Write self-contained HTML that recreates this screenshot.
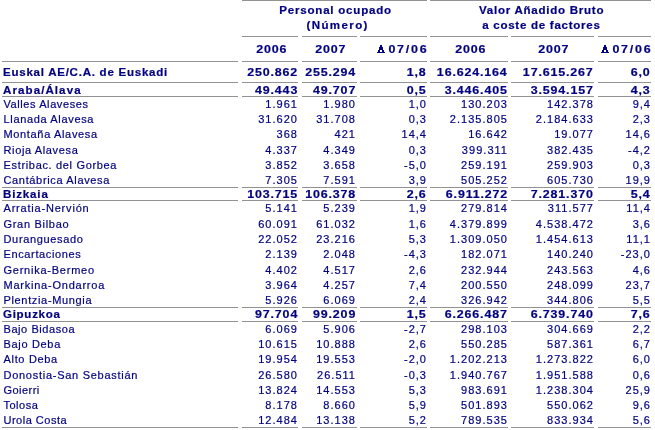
<!DOCTYPE html>
<html><head><meta charset="utf-8"><style>
html,body{margin:0;padding:0;background:#fff;width:655px;height:430px;overflow:hidden;position:relative}
.l{position:absolute;height:1px;background:#929292}
.t{position:absolute;font-family:"Liberation Sans",sans-serif;font-size:11px;line-height:14px;color:#000080;white-space:nowrap;-webkit-text-stroke:0.2px #000080}
.t span{display:inline-block}
.b{font-weight:bold;-webkit-text-stroke:0.2px #000080}
.r{text-align:right}
.r span{transform-origin:100% 0}
.c{text-align:center}
.c span{transform-origin:50% 0}
.lf span{transform-origin:0 0}
</style></head><body><div id="w" style="position:absolute;left:0;top:0;width:655px;height:430px;will-change:transform">

<div class="l" style="left:242px;top:0px;width:185px"></div>
<div class="l" style="left:430px;top:0px;width:221px"></div>
<div class="l" style="left:242px;top:36px;width:56px"></div>
<div class="l" style="left:302px;top:36px;width:55px"></div>
<div class="l" style="left:360px;top:36px;width:67px"></div>
<div class="l" style="left:430px;top:36px;width:78px"></div>
<div class="l" style="left:511px;top:36px;width:83px"></div>
<div class="l" style="left:598px;top:36px;width:53px"></div>
<div class="l" style="left:2px;top:61px;width:236px"></div>
<div class="l" style="left:242px;top:61px;width:56px"></div>
<div class="l" style="left:302px;top:61px;width:55px"></div>
<div class="l" style="left:360px;top:61px;width:67px"></div>
<div class="l" style="left:430px;top:61px;width:78px"></div>
<div class="l" style="left:511px;top:61px;width:83px"></div>
<div class="l" style="left:598px;top:61px;width:53px"></div>
<div class="l" style="left:2px;top:82px;width:236px"></div>
<div class="l" style="left:242px;top:82px;width:56px"></div>
<div class="l" style="left:302px;top:82px;width:55px"></div>
<div class="l" style="left:360px;top:82px;width:67px"></div>
<div class="l" style="left:430px;top:82px;width:78px"></div>
<div class="l" style="left:511px;top:82px;width:83px"></div>
<div class="l" style="left:598px;top:82px;width:53px"></div>
<div class="l" style="left:2px;top:96px;width:236px"></div>
<div class="l" style="left:242px;top:96px;width:56px"></div>
<div class="l" style="left:302px;top:96px;width:55px"></div>
<div class="l" style="left:360px;top:96px;width:67px"></div>
<div class="l" style="left:430px;top:96px;width:78px"></div>
<div class="l" style="left:511px;top:96px;width:83px"></div>
<div class="l" style="left:598px;top:96px;width:53px"></div>
<div class="l" style="left:2px;top:187px;width:236px"></div>
<div class="l" style="left:242px;top:187px;width:56px"></div>
<div class="l" style="left:302px;top:187px;width:55px"></div>
<div class="l" style="left:360px;top:187px;width:67px"></div>
<div class="l" style="left:430px;top:187px;width:78px"></div>
<div class="l" style="left:511px;top:187px;width:83px"></div>
<div class="l" style="left:598px;top:187px;width:53px"></div>
<div class="l" style="left:2px;top:200px;width:236px"></div>
<div class="l" style="left:242px;top:200px;width:56px"></div>
<div class="l" style="left:302px;top:200px;width:55px"></div>
<div class="l" style="left:360px;top:200px;width:67px"></div>
<div class="l" style="left:430px;top:200px;width:78px"></div>
<div class="l" style="left:511px;top:200px;width:83px"></div>
<div class="l" style="left:598px;top:200px;width:53px"></div>
<div class="l" style="left:2px;top:307px;width:236px"></div>
<div class="l" style="left:242px;top:307px;width:56px"></div>
<div class="l" style="left:302px;top:307px;width:55px"></div>
<div class="l" style="left:360px;top:307px;width:67px"></div>
<div class="l" style="left:430px;top:307px;width:78px"></div>
<div class="l" style="left:511px;top:307px;width:83px"></div>
<div class="l" style="left:598px;top:307px;width:53px"></div>
<div class="l" style="left:2px;top:321px;width:236px"></div>
<div class="l" style="left:242px;top:321px;width:56px"></div>
<div class="l" style="left:302px;top:321px;width:55px"></div>
<div class="l" style="left:360px;top:321px;width:67px"></div>
<div class="l" style="left:430px;top:321px;width:78px"></div>
<div class="l" style="left:511px;top:321px;width:83px"></div>
<div class="l" style="left:598px;top:321px;width:53px"></div>
<div class="l" style="left:2px;top:427px;width:236px"></div>
<div class="l" style="left:242px;top:427px;width:56px"></div>
<div class="l" style="left:302px;top:427px;width:55px"></div>
<div class="l" style="left:360px;top:427px;width:67px"></div>
<div class="l" style="left:430px;top:427px;width:78px"></div>
<div class="l" style="left:511px;top:427px;width:83px"></div>
<div class="l" style="left:598px;top:427px;width:53px"></div>
<div class="t b lf" style="left:3px;top:65px;"><span style="transform:scaleX(1.05);letter-spacing:0.7px;margin-right:-0.7px;">Euskal AE/C.A. de Euskadi</span></div>
<div class="t b r" style="left:242px;width:55px;top:65px;"><span style="transform:scaleX(1.13);letter-spacing:0.75px;margin-right:-0.75px;">250.862</span></div>
<div class="t b r" style="left:302px;width:53px;top:65px;"><span style="transform:scaleX(1.13);letter-spacing:0.75px;margin-right:-0.75px;">255.294</span></div>
<div class="t b r" style="left:360px;width:66px;top:65px;"><span style="transform:scaleX(1.13);letter-spacing:0.75px;margin-right:-0.75px;">1,8</span></div>
<div class="t b r" style="left:430px;width:77px;top:65px;"><span style="transform:scaleX(1.13);letter-spacing:0.75px;margin-right:-0.75px;">16.624.164</span></div>
<div class="t b r" style="left:511px;width:82px;top:65px;"><span style="transform:scaleX(1.13);letter-spacing:0.75px;margin-right:-0.75px;">17.615.267</span></div>
<div class="t b r" style="left:598px;width:52px;top:65px;"><span style="transform:scaleX(1.13);letter-spacing:0.75px;margin-right:-0.75px;">6,0</span></div>
<div class="t b lf" style="left:3px;top:83px;"><span style="transform:scaleX(1.05);letter-spacing:1.027px;margin-right:-1.027px;">Araba/Álava</span></div>
<div class="t b r" style="left:242px;width:55px;top:83px;"><span style="transform:scaleX(1.13);letter-spacing:0.75px;margin-right:-0.75px;">49.443</span></div>
<div class="t b r" style="left:302px;width:53px;top:83px;"><span style="transform:scaleX(1.13);letter-spacing:0.75px;margin-right:-0.75px;">49.707</span></div>
<div class="t b r" style="left:360px;width:66px;top:83px;"><span style="transform:scaleX(1.13);letter-spacing:0.75px;margin-right:-0.75px;">0,5</span></div>
<div class="t b r" style="left:430px;width:77px;top:83px;"><span style="transform:scaleX(1.13);letter-spacing:0.75px;margin-right:-0.75px;">3.446.405</span></div>
<div class="t b r" style="left:511px;width:82px;top:83px;"><span style="transform:scaleX(1.13);letter-spacing:0.75px;margin-right:-0.75px;">3.594.157</span></div>
<div class="t b r" style="left:598px;width:52px;top:83px;"><span style="transform:scaleX(1.13);letter-spacing:0.75px;margin-right:-0.75px;">4,3</span></div>
<div class="t lf" style="left:3.5px;top:97px;"><span style="transform:scaleX(1.0);letter-spacing:0.586px;margin-right:-0.586px;">Valles Alaveses</span></div>
<div class="t r" style="left:242px;width:55px;top:97px;"><span style="transform:scaleX(1.0);letter-spacing:1.03px;margin-right:-1.03px;">1.961</span></div>
<div class="t r" style="left:302px;width:53px;top:97px;"><span style="transform:scaleX(1.0);letter-spacing:1.03px;margin-right:-1.03px;">1.980</span></div>
<div class="t r" style="left:360px;width:66px;top:97px;"><span style="transform:scaleX(1.0);letter-spacing:1.03px;margin-right:-1.03px;">1,0</span></div>
<div class="t r" style="left:430px;width:77px;top:97px;"><span style="transform:scaleX(1.0);letter-spacing:1.03px;margin-right:-1.03px;">130.203</span></div>
<div class="t r" style="left:511px;width:82px;top:97px;"><span style="transform:scaleX(1.0);letter-spacing:1.03px;margin-right:-1.03px;">142.378</span></div>
<div class="t r" style="left:598px;width:52px;top:97px;"><span style="transform:scaleX(1.0);letter-spacing:1.03px;margin-right:-1.03px;">9,4</span></div>
<div class="t lf" style="left:3.5px;top:112px;"><span style="transform:scaleX(1.0);letter-spacing:0.657px;margin-right:-0.657px;">Llanada Alavesa</span></div>
<div class="t r" style="left:242px;width:55px;top:112px;"><span style="transform:scaleX(1.0);letter-spacing:1.03px;margin-right:-1.03px;">31.620</span></div>
<div class="t r" style="left:302px;width:53px;top:112px;"><span style="transform:scaleX(1.0);letter-spacing:1.03px;margin-right:-1.03px;">31.708</span></div>
<div class="t r" style="left:360px;width:66px;top:112px;"><span style="transform:scaleX(1.0);letter-spacing:1.03px;margin-right:-1.03px;">0,3</span></div>
<div class="t r" style="left:430px;width:77px;top:112px;"><span style="transform:scaleX(1.0);letter-spacing:1.03px;margin-right:-1.03px;">2.135.805</span></div>
<div class="t r" style="left:511px;width:82px;top:112px;"><span style="transform:scaleX(1.0);letter-spacing:1.03px;margin-right:-1.03px;">2.184.633</span></div>
<div class="t r" style="left:598px;width:52px;top:112px;"><span style="transform:scaleX(1.0);letter-spacing:1.03px;margin-right:-1.03px;">2,3</span></div>
<div class="t lf" style="left:3.5px;top:127px;"><span style="transform:scaleX(1.0);letter-spacing:0.657px;margin-right:-0.657px;">Montaña Alavesa</span></div>
<div class="t r" style="left:242px;width:55px;top:127px;"><span style="transform:scaleX(1.0);letter-spacing:1.03px;margin-right:-1.03px;">368</span></div>
<div class="t r" style="left:302px;width:53px;top:127px;"><span style="transform:scaleX(1.0);letter-spacing:1.03px;margin-right:-1.03px;">421</span></div>
<div class="t r" style="left:360px;width:66px;top:127px;"><span style="transform:scaleX(1.0);letter-spacing:1.03px;margin-right:-1.03px;">14,4</span></div>
<div class="t r" style="left:430px;width:77px;top:127px;"><span style="transform:scaleX(1.0);letter-spacing:1.03px;margin-right:-1.03px;">16.642</span></div>
<div class="t r" style="left:511px;width:82px;top:127px;"><span style="transform:scaleX(1.0);letter-spacing:1.03px;margin-right:-1.03px;">19.077</span></div>
<div class="t r" style="left:598px;width:52px;top:127px;"><span style="transform:scaleX(1.0);letter-spacing:1.03px;margin-right:-1.03px;">14,6</span></div>
<div class="t lf" style="left:3.5px;top:143px;"><span style="transform:scaleX(1.0);letter-spacing:0.633px;margin-right:-0.633px;">Rioja Alavesa</span></div>
<div class="t r" style="left:242px;width:55px;top:143px;"><span style="transform:scaleX(1.0);letter-spacing:1.03px;margin-right:-1.03px;">4.337</span></div>
<div class="t r" style="left:302px;width:53px;top:143px;"><span style="transform:scaleX(1.0);letter-spacing:1.03px;margin-right:-1.03px;">4.349</span></div>
<div class="t r" style="left:360px;width:66px;top:143px;"><span style="transform:scaleX(1.0);letter-spacing:1.03px;margin-right:-1.03px;">0,3</span></div>
<div class="t r" style="left:430px;width:77px;top:143px;"><span style="transform:scaleX(1.0);letter-spacing:1.03px;margin-right:-1.03px;">399.311</span></div>
<div class="t r" style="left:511px;width:82px;top:143px;"><span style="transform:scaleX(1.0);letter-spacing:1.03px;margin-right:-1.03px;">382.435</span></div>
<div class="t r" style="left:598px;width:52px;top:143px;"><span style="transform:scaleX(1.0);letter-spacing:1.03px;margin-right:-1.03px;">-4,2</span></div>
<div class="t lf" style="left:3.5px;top:158px;"><span style="transform:scaleX(1.0);letter-spacing:0.668px;margin-right:-0.668px;">Estribac. del Gorbea</span></div>
<div class="t r" style="left:242px;width:55px;top:158px;"><span style="transform:scaleX(1.0);letter-spacing:1.03px;margin-right:-1.03px;">3.852</span></div>
<div class="t r" style="left:302px;width:53px;top:158px;"><span style="transform:scaleX(1.0);letter-spacing:1.03px;margin-right:-1.03px;">3.658</span></div>
<div class="t r" style="left:360px;width:66px;top:158px;"><span style="transform:scaleX(1.0);letter-spacing:1.03px;margin-right:-1.03px;">-5,0</span></div>
<div class="t r" style="left:430px;width:77px;top:158px;"><span style="transform:scaleX(1.0);letter-spacing:1.03px;margin-right:-1.03px;">259.191</span></div>
<div class="t r" style="left:511px;width:82px;top:158px;"><span style="transform:scaleX(1.0);letter-spacing:1.03px;margin-right:-1.03px;">259.903</span></div>
<div class="t r" style="left:598px;width:52px;top:158px;"><span style="transform:scaleX(1.0);letter-spacing:1.03px;margin-right:-1.03px;">0,3</span></div>
<div class="t lf" style="left:3.5px;top:173px;"><span style="transform:scaleX(1.0);letter-spacing:0.653px;margin-right:-0.653px;">Cantábrica Alavesa</span></div>
<div class="t r" style="left:242px;width:55px;top:173px;"><span style="transform:scaleX(1.0);letter-spacing:1.03px;margin-right:-1.03px;">7.305</span></div>
<div class="t r" style="left:302px;width:53px;top:173px;"><span style="transform:scaleX(1.0);letter-spacing:1.03px;margin-right:-1.03px;">7.591</span></div>
<div class="t r" style="left:360px;width:66px;top:173px;"><span style="transform:scaleX(1.0);letter-spacing:1.03px;margin-right:-1.03px;">3,9</span></div>
<div class="t r" style="left:430px;width:77px;top:173px;"><span style="transform:scaleX(1.0);letter-spacing:1.03px;margin-right:-1.03px;">505.252</span></div>
<div class="t r" style="left:511px;width:82px;top:173px;"><span style="transform:scaleX(1.0);letter-spacing:1.03px;margin-right:-1.03px;">605.730</span></div>
<div class="t r" style="left:598px;width:52px;top:173px;"><span style="transform:scaleX(1.0);letter-spacing:1.03px;margin-right:-1.03px;">19,9</span></div>
<div class="t b lf" style="left:3px;top:187px;"><span style="transform:scaleX(1.05);letter-spacing:0.8px;margin-right:-0.8px;">Bizkaia</span></div>
<div class="t b r" style="left:242px;width:55px;top:187px;"><span style="transform:scaleX(1.13);letter-spacing:0.75px;margin-right:-0.75px;">103.715</span></div>
<div class="t b r" style="left:302px;width:53px;top:187px;"><span style="transform:scaleX(1.13);letter-spacing:0.75px;margin-right:-0.75px;">106.378</span></div>
<div class="t b r" style="left:360px;width:66px;top:187px;"><span style="transform:scaleX(1.13);letter-spacing:0.75px;margin-right:-0.75px;">2,6</span></div>
<div class="t b r" style="left:430px;width:77px;top:187px;"><span style="transform:scaleX(1.13);letter-spacing:0.75px;margin-right:-0.75px;">6.911.272</span></div>
<div class="t b r" style="left:511px;width:82px;top:187px;"><span style="transform:scaleX(1.13);letter-spacing:0.75px;margin-right:-0.75px;">7.281.370</span></div>
<div class="t b r" style="left:598px;width:52px;top:187px;"><span style="transform:scaleX(1.13);letter-spacing:0.75px;margin-right:-0.75px;">5,4</span></div>
<div class="t lf" style="left:3.5px;top:201px;"><span style="transform:scaleX(1.0);letter-spacing:0.8px;margin-right:-0.8px;">Arratia-Nervión</span></div>
<div class="t r" style="left:242px;width:55px;top:201px;"><span style="transform:scaleX(1.0);letter-spacing:1.03px;margin-right:-1.03px;">5.141</span></div>
<div class="t r" style="left:302px;width:53px;top:201px;"><span style="transform:scaleX(1.0);letter-spacing:1.03px;margin-right:-1.03px;">5.239</span></div>
<div class="t r" style="left:360px;width:66px;top:201px;"><span style="transform:scaleX(1.0);letter-spacing:1.03px;margin-right:-1.03px;">1,9</span></div>
<div class="t r" style="left:430px;width:77px;top:201px;"><span style="transform:scaleX(1.0);letter-spacing:1.03px;margin-right:-1.03px;">279.814</span></div>
<div class="t r" style="left:511px;width:82px;top:201px;"><span style="transform:scaleX(1.0);letter-spacing:1.03px;margin-right:-1.03px;">311.577</span></div>
<div class="t r" style="left:598px;width:52px;top:201px;"><span style="transform:scaleX(1.0);letter-spacing:1.03px;margin-right:-1.03px;">11,4</span></div>
<div class="t lf" style="left:3.5px;top:217px;"><span style="transform:scaleX(1.0);letter-spacing:0.7px;margin-right:-0.7px;">Gran Bilbao</span></div>
<div class="t r" style="left:242px;width:55px;top:217px;"><span style="transform:scaleX(1.0);letter-spacing:1.03px;margin-right:-1.03px;">60.091</span></div>
<div class="t r" style="left:302px;width:53px;top:217px;"><span style="transform:scaleX(1.0);letter-spacing:1.03px;margin-right:-1.03px;">61.032</span></div>
<div class="t r" style="left:360px;width:66px;top:217px;"><span style="transform:scaleX(1.0);letter-spacing:1.03px;margin-right:-1.03px;">1,6</span></div>
<div class="t r" style="left:430px;width:77px;top:217px;"><span style="transform:scaleX(1.0);letter-spacing:1.03px;margin-right:-1.03px;">4.379.899</span></div>
<div class="t r" style="left:511px;width:82px;top:217px;"><span style="transform:scaleX(1.0);letter-spacing:1.03px;margin-right:-1.03px;">4.538.472</span></div>
<div class="t r" style="left:598px;width:52px;top:217px;"><span style="transform:scaleX(1.0);letter-spacing:1.03px;margin-right:-1.03px;">3,6</span></div>
<div class="t lf" style="left:3.5px;top:232px;"><span style="transform:scaleX(1.0);letter-spacing:0.664px;margin-right:-0.664px;">Duranguesado</span></div>
<div class="t r" style="left:242px;width:55px;top:232px;"><span style="transform:scaleX(1.0);letter-spacing:1.03px;margin-right:-1.03px;">22.052</span></div>
<div class="t r" style="left:302px;width:53px;top:232px;"><span style="transform:scaleX(1.0);letter-spacing:1.03px;margin-right:-1.03px;">23.216</span></div>
<div class="t r" style="left:360px;width:66px;top:232px;"><span style="transform:scaleX(1.0);letter-spacing:1.03px;margin-right:-1.03px;">5,3</span></div>
<div class="t r" style="left:430px;width:77px;top:232px;"><span style="transform:scaleX(1.0);letter-spacing:1.03px;margin-right:-1.03px;">1.309.050</span></div>
<div class="t r" style="left:511px;width:82px;top:232px;"><span style="transform:scaleX(1.0);letter-spacing:1.03px;margin-right:-1.03px;">1.454.613</span></div>
<div class="t r" style="left:598px;width:52px;top:232px;"><span style="transform:scaleX(1.0);letter-spacing:1.03px;margin-right:-1.03px;">11,1</span></div>
<div class="t lf" style="left:3.5px;top:247px;"><span style="transform:scaleX(1.0);letter-spacing:0.633px;margin-right:-0.633px;">Encartaciones</span></div>
<div class="t r" style="left:242px;width:55px;top:247px;"><span style="transform:scaleX(1.0);letter-spacing:1.03px;margin-right:-1.03px;">2.139</span></div>
<div class="t r" style="left:302px;width:53px;top:247px;"><span style="transform:scaleX(1.0);letter-spacing:1.03px;margin-right:-1.03px;">2.048</span></div>
<div class="t r" style="left:360px;width:66px;top:247px;"><span style="transform:scaleX(1.0);letter-spacing:1.03px;margin-right:-1.03px;">-4,3</span></div>
<div class="t r" style="left:430px;width:77px;top:247px;"><span style="transform:scaleX(1.0);letter-spacing:1.03px;margin-right:-1.03px;">182.071</span></div>
<div class="t r" style="left:511px;width:82px;top:247px;"><span style="transform:scaleX(1.0);letter-spacing:1.03px;margin-right:-1.03px;">140.240</span></div>
<div class="t r" style="left:598px;width:52px;top:247px;"><span style="transform:scaleX(1.0);letter-spacing:1.03px;margin-right:-1.03px;">-23,0</span></div>
<div class="t lf" style="left:3.5px;top:263px;"><span style="transform:scaleX(1.0);letter-spacing:0.762px;margin-right:-0.762px;">Gernika-Bermeo</span></div>
<div class="t r" style="left:242px;width:55px;top:263px;"><span style="transform:scaleX(1.0);letter-spacing:1.03px;margin-right:-1.03px;">4.402</span></div>
<div class="t r" style="left:302px;width:53px;top:263px;"><span style="transform:scaleX(1.0);letter-spacing:1.03px;margin-right:-1.03px;">4.517</span></div>
<div class="t r" style="left:360px;width:66px;top:263px;"><span style="transform:scaleX(1.0);letter-spacing:1.03px;margin-right:-1.03px;">2,6</span></div>
<div class="t r" style="left:430px;width:77px;top:263px;"><span style="transform:scaleX(1.0);letter-spacing:1.03px;margin-right:-1.03px;">232.944</span></div>
<div class="t r" style="left:511px;width:82px;top:263px;"><span style="transform:scaleX(1.0);letter-spacing:1.03px;margin-right:-1.03px;">243.563</span></div>
<div class="t r" style="left:598px;width:52px;top:263px;"><span style="transform:scaleX(1.0);letter-spacing:1.03px;margin-right:-1.03px;">4,6</span></div>
<div class="t lf" style="left:3.5px;top:278px;"><span style="transform:scaleX(1.0);letter-spacing:0.767px;margin-right:-0.767px;">Markina-Ondarroa</span></div>
<div class="t r" style="left:242px;width:55px;top:278px;"><span style="transform:scaleX(1.0);letter-spacing:1.03px;margin-right:-1.03px;">3.964</span></div>
<div class="t r" style="left:302px;width:53px;top:278px;"><span style="transform:scaleX(1.0);letter-spacing:1.03px;margin-right:-1.03px;">4.257</span></div>
<div class="t r" style="left:360px;width:66px;top:278px;"><span style="transform:scaleX(1.0);letter-spacing:1.03px;margin-right:-1.03px;">7,4</span></div>
<div class="t r" style="left:430px;width:77px;top:278px;"><span style="transform:scaleX(1.0);letter-spacing:1.03px;margin-right:-1.03px;">200.550</span></div>
<div class="t r" style="left:511px;width:82px;top:278px;"><span style="transform:scaleX(1.0);letter-spacing:1.03px;margin-right:-1.03px;">248.099</span></div>
<div class="t r" style="left:598px;width:52px;top:278px;"><span style="transform:scaleX(1.0);letter-spacing:1.03px;margin-right:-1.03px;">23,7</span></div>
<div class="t lf" style="left:3.5px;top:293px;"><span style="transform:scaleX(1.0);letter-spacing:0.657px;margin-right:-0.657px;">Plentzia-Mungia</span></div>
<div class="t r" style="left:242px;width:55px;top:293px;"><span style="transform:scaleX(1.0);letter-spacing:1.03px;margin-right:-1.03px;">5.926</span></div>
<div class="t r" style="left:302px;width:53px;top:293px;"><span style="transform:scaleX(1.0);letter-spacing:1.03px;margin-right:-1.03px;">6.069</span></div>
<div class="t r" style="left:360px;width:66px;top:293px;"><span style="transform:scaleX(1.0);letter-spacing:1.03px;margin-right:-1.03px;">2,4</span></div>
<div class="t r" style="left:430px;width:77px;top:293px;"><span style="transform:scaleX(1.0);letter-spacing:1.03px;margin-right:-1.03px;">326.942</span></div>
<div class="t r" style="left:511px;width:82px;top:293px;"><span style="transform:scaleX(1.0);letter-spacing:1.03px;margin-right:-1.03px;">344.806</span></div>
<div class="t r" style="left:598px;width:52px;top:293px;"><span style="transform:scaleX(1.0);letter-spacing:1.03px;margin-right:-1.03px;">5,5</span></div>
<div class="t b lf" style="left:3px;top:307px;"><span style="transform:scaleX(1.05);letter-spacing:0.675px;margin-right:-0.675px;">Gipuzkoa</span></div>
<div class="t b r" style="left:242px;width:55px;top:307px;"><span style="transform:scaleX(1.13);letter-spacing:0.75px;margin-right:-0.75px;">97.704</span></div>
<div class="t b r" style="left:302px;width:53px;top:307px;"><span style="transform:scaleX(1.13);letter-spacing:0.75px;margin-right:-0.75px;">99.209</span></div>
<div class="t b r" style="left:360px;width:66px;top:307px;"><span style="transform:scaleX(1.13);letter-spacing:0.75px;margin-right:-0.75px;">1,5</span></div>
<div class="t b r" style="left:430px;width:77px;top:307px;"><span style="transform:scaleX(1.13);letter-spacing:0.75px;margin-right:-0.75px;">6.266.487</span></div>
<div class="t b r" style="left:511px;width:82px;top:307px;"><span style="transform:scaleX(1.13);letter-spacing:0.75px;margin-right:-0.75px;">6.739.740</span></div>
<div class="t b r" style="left:598px;width:52px;top:307px;"><span style="transform:scaleX(1.13);letter-spacing:0.75px;margin-right:-0.75px;">7,6</span></div>
<div class="t lf" style="left:3.5px;top:322px;"><span style="transform:scaleX(1.0);letter-spacing:0.573px;margin-right:-0.573px;">Bajo Bidasoa</span></div>
<div class="t r" style="left:242px;width:55px;top:322px;"><span style="transform:scaleX(1.0);letter-spacing:1.03px;margin-right:-1.03px;">6.069</span></div>
<div class="t r" style="left:302px;width:53px;top:322px;"><span style="transform:scaleX(1.0);letter-spacing:1.03px;margin-right:-1.03px;">5.906</span></div>
<div class="t r" style="left:360px;width:66px;top:322px;"><span style="transform:scaleX(1.0);letter-spacing:1.03px;margin-right:-1.03px;">-2,7</span></div>
<div class="t r" style="left:430px;width:77px;top:322px;"><span style="transform:scaleX(1.0);letter-spacing:1.03px;margin-right:-1.03px;">298.103</span></div>
<div class="t r" style="left:511px;width:82px;top:322px;"><span style="transform:scaleX(1.0);letter-spacing:1.03px;margin-right:-1.03px;">304.669</span></div>
<div class="t r" style="left:598px;width:52px;top:322px;"><span style="transform:scaleX(1.0);letter-spacing:1.03px;margin-right:-1.03px;">2,2</span></div>
<div class="t lf" style="left:3.5px;top:337px;"><span style="transform:scaleX(1.0);letter-spacing:0.675px;margin-right:-0.675px;">Bajo Deba</span></div>
<div class="t r" style="left:242px;width:55px;top:337px;"><span style="transform:scaleX(1.0);letter-spacing:1.03px;margin-right:-1.03px;">10.615</span></div>
<div class="t r" style="left:302px;width:53px;top:337px;"><span style="transform:scaleX(1.0);letter-spacing:1.03px;margin-right:-1.03px;">10.888</span></div>
<div class="t r" style="left:360px;width:66px;top:337px;"><span style="transform:scaleX(1.0);letter-spacing:1.03px;margin-right:-1.03px;">2,6</span></div>
<div class="t r" style="left:430px;width:77px;top:337px;"><span style="transform:scaleX(1.0);letter-spacing:1.03px;margin-right:-1.03px;">550.285</span></div>
<div class="t r" style="left:511px;width:82px;top:337px;"><span style="transform:scaleX(1.0);letter-spacing:1.03px;margin-right:-1.03px;">587.361</span></div>
<div class="t r" style="left:598px;width:52px;top:337px;"><span style="transform:scaleX(1.0);letter-spacing:1.03px;margin-right:-1.03px;">6,7</span></div>
<div class="t lf" style="left:3.5px;top:352px;"><span style="transform:scaleX(1.0);letter-spacing:0.675px;margin-right:-0.675px;">Alto Deba</span></div>
<div class="t r" style="left:242px;width:55px;top:352px;"><span style="transform:scaleX(1.0);letter-spacing:1.03px;margin-right:-1.03px;">19.954</span></div>
<div class="t r" style="left:302px;width:53px;top:352px;"><span style="transform:scaleX(1.0);letter-spacing:1.03px;margin-right:-1.03px;">19.553</span></div>
<div class="t r" style="left:360px;width:66px;top:352px;"><span style="transform:scaleX(1.0);letter-spacing:1.03px;margin-right:-1.03px;">-2,0</span></div>
<div class="t r" style="left:430px;width:77px;top:352px;"><span style="transform:scaleX(1.0);letter-spacing:1.03px;margin-right:-1.03px;">1.202.213</span></div>
<div class="t r" style="left:511px;width:82px;top:352px;"><span style="transform:scaleX(1.0);letter-spacing:1.03px;margin-right:-1.03px;">1.273.822</span></div>
<div class="t r" style="left:598px;width:52px;top:352px;"><span style="transform:scaleX(1.0);letter-spacing:1.03px;margin-right:-1.03px;">6,0</span></div>
<div class="t lf" style="left:3.5px;top:368px;"><span style="transform:scaleX(1.0);letter-spacing:0.729px;margin-right:-0.729px;">Donostia-San Sebastián</span></div>
<div class="t r" style="left:242px;width:55px;top:368px;"><span style="transform:scaleX(1.0);letter-spacing:1.03px;margin-right:-1.03px;">26.580</span></div>
<div class="t r" style="left:302px;width:53px;top:368px;"><span style="transform:scaleX(1.0);letter-spacing:1.03px;margin-right:-1.03px;">26.511</span></div>
<div class="t r" style="left:360px;width:66px;top:368px;"><span style="transform:scaleX(1.0);letter-spacing:1.03px;margin-right:-1.03px;">-0,3</span></div>
<div class="t r" style="left:430px;width:77px;top:368px;"><span style="transform:scaleX(1.0);letter-spacing:1.03px;margin-right:-1.03px;">1.940.767</span></div>
<div class="t r" style="left:511px;width:82px;top:368px;"><span style="transform:scaleX(1.0);letter-spacing:1.03px;margin-right:-1.03px;">1.951.588</span></div>
<div class="t r" style="left:598px;width:52px;top:368px;"><span style="transform:scaleX(1.0);letter-spacing:1.03px;margin-right:-1.03px;">0,6</span></div>
<div class="t lf" style="left:3.5px;top:383px;"><span style="transform:scaleX(1.0);letter-spacing:0.467px;margin-right:-0.467px;">Goierri</span></div>
<div class="t r" style="left:242px;width:55px;top:383px;"><span style="transform:scaleX(1.0);letter-spacing:1.03px;margin-right:-1.03px;">13.824</span></div>
<div class="t r" style="left:302px;width:53px;top:383px;"><span style="transform:scaleX(1.0);letter-spacing:1.03px;margin-right:-1.03px;">14.553</span></div>
<div class="t r" style="left:360px;width:66px;top:383px;"><span style="transform:scaleX(1.0);letter-spacing:1.03px;margin-right:-1.03px;">5,3</span></div>
<div class="t r" style="left:430px;width:77px;top:383px;"><span style="transform:scaleX(1.0);letter-spacing:1.03px;margin-right:-1.03px;">983.691</span></div>
<div class="t r" style="left:511px;width:82px;top:383px;"><span style="transform:scaleX(1.0);letter-spacing:1.03px;margin-right:-1.03px;">1.238.304</span></div>
<div class="t r" style="left:598px;width:52px;top:383px;"><span style="transform:scaleX(1.0);letter-spacing:1.03px;margin-right:-1.03px;">25,9</span></div>
<div class="t lf" style="left:3.5px;top:398px;"><span style="transform:scaleX(1.0);letter-spacing:0.5px;margin-right:-0.5px;">Tolosa</span></div>
<div class="t r" style="left:242px;width:55px;top:398px;"><span style="transform:scaleX(1.0);letter-spacing:1.03px;margin-right:-1.03px;">8.178</span></div>
<div class="t r" style="left:302px;width:53px;top:398px;"><span style="transform:scaleX(1.0);letter-spacing:1.03px;margin-right:-1.03px;">8.660</span></div>
<div class="t r" style="left:360px;width:66px;top:398px;"><span style="transform:scaleX(1.0);letter-spacing:1.03px;margin-right:-1.03px;">5,9</span></div>
<div class="t r" style="left:430px;width:77px;top:398px;"><span style="transform:scaleX(1.0);letter-spacing:1.03px;margin-right:-1.03px;">501.893</span></div>
<div class="t r" style="left:511px;width:82px;top:398px;"><span style="transform:scaleX(1.0);letter-spacing:1.03px;margin-right:-1.03px;">550.062</span></div>
<div class="t r" style="left:598px;width:52px;top:398px;"><span style="transform:scaleX(1.0);letter-spacing:1.03px;margin-right:-1.03px;">9,6</span></div>
<div class="t lf" style="left:3.5px;top:413px;"><span style="transform:scaleX(1.0);letter-spacing:0.5px;margin-right:-0.5px;">Urola Costa</span></div>
<div class="t r" style="left:242px;width:55px;top:413px;"><span style="transform:scaleX(1.0);letter-spacing:1.03px;margin-right:-1.03px;">12.484</span></div>
<div class="t r" style="left:302px;width:53px;top:413px;"><span style="transform:scaleX(1.0);letter-spacing:1.03px;margin-right:-1.03px;">13.138</span></div>
<div class="t r" style="left:360px;width:66px;top:413px;"><span style="transform:scaleX(1.0);letter-spacing:1.03px;margin-right:-1.03px;">5,2</span></div>
<div class="t r" style="left:430px;width:77px;top:413px;"><span style="transform:scaleX(1.0);letter-spacing:1.03px;margin-right:-1.03px;">789.535</span></div>
<div class="t r" style="left:511px;width:82px;top:413px;"><span style="transform:scaleX(1.0);letter-spacing:1.03px;margin-right:-1.03px;">833.934</span></div>
<div class="t r" style="left:598px;width:52px;top:413px;"><span style="transform:scaleX(1.0);letter-spacing:1.03px;margin-right:-1.03px;">5,6</span></div>
<div class="t b c" style="left:242.94px;width:185px;top:3px;"><span style="transform:scaleX(1.05);letter-spacing:0.738px;margin-right:-0.738px;">Personal ocupado</span></div>
<div class="t b c" style="left:244.5px;width:185px;top:18px;"><span style="transform:scaleX(1.05);letter-spacing:1.3px;margin-right:-1.3px;">(Número)</span></div>
<div class="t b c" style="left:431.0px;width:221px;top:3px;"><span style="transform:scaleX(1.05);letter-spacing:0.7px;margin-right:-0.7px;">Valor Añadido Bruto</span></div>
<div class="t b c" style="left:431.0px;width:221px;top:18px;"><span style="transform:scaleX(1.05);letter-spacing:0.689px;margin-right:-0.689px;">a coste de factores</span></div>
<div class="t b c" style="left:243px;width:56px;top:42px;"><span style="transform:scaleX(1.13);letter-spacing:0.75px;margin-right:-0.75px;">2006</span></div>
<div class="t b c" style="left:303px;width:55px;top:42px;"><span style="transform:scaleX(1.13);letter-spacing:0.75px;margin-right:-0.75px;">2007</span></div>
<div class="t b r" style="left:360.5px;width:66px;top:42px;"><span style="transform:scaleX(1.13);letter-spacing:1.6px;margin-right:-1.6px;">07/06</span></div>
<svg style="position:absolute;left:377px;top:45px" width="8" height="8"><g fill="#000080"><rect x="3" y="0" width="2" height="2"/><rect x="2" y="2" width="4" height="3"/><rect x="1" y="5" width="2" height="2"/><rect x="5" y="5" width="2" height="2"/><rect x="0" y="7" width="8" height="1"/></g></svg>
<div class="t b c" style="left:431px;width:78px;top:42px;"><span style="transform:scaleX(1.13);letter-spacing:0.75px;margin-right:-0.75px;">2006</span></div>
<div class="t b c" style="left:512px;width:83px;top:42px;"><span style="transform:scaleX(1.13);letter-spacing:0.75px;margin-right:-0.75px;">2007</span></div>
<div class="t b r" style="left:598.5px;width:52px;top:42px;"><span style="transform:scaleX(1.13);letter-spacing:1.6px;margin-right:-1.6px;">07/06</span></div>
<svg style="position:absolute;left:601px;top:45px" width="8" height="8"><g fill="#000080"><rect x="3" y="0" width="2" height="2"/><rect x="2" y="2" width="4" height="3"/><rect x="1" y="5" width="2" height="2"/><rect x="5" y="5" width="2" height="2"/><rect x="0" y="7" width="8" height="1"/></g></svg>
</div></body></html>
